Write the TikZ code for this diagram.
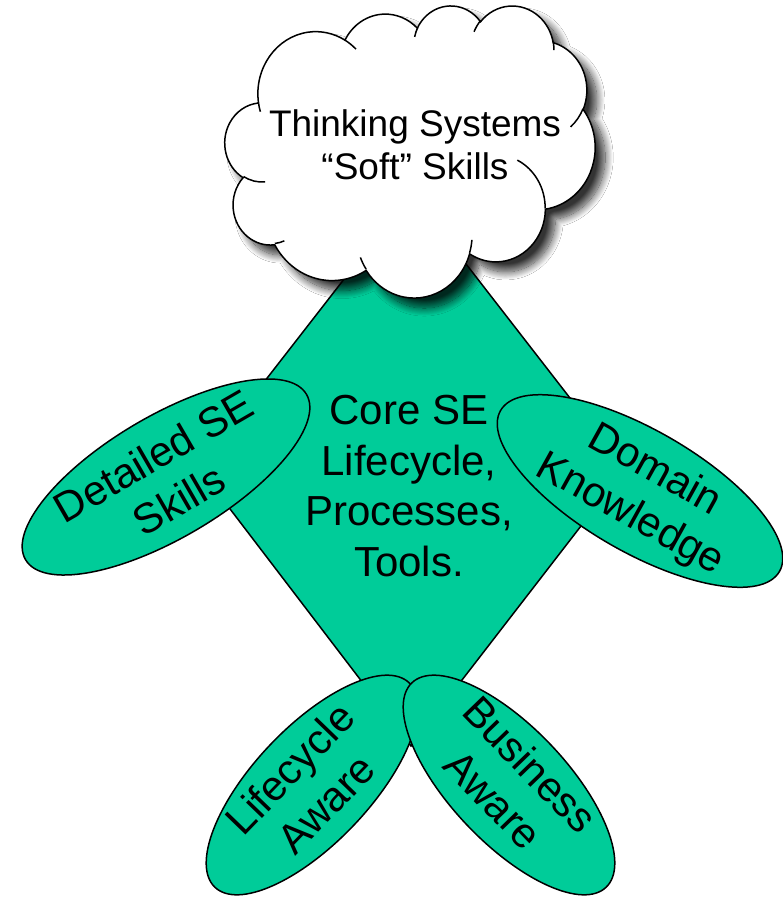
\documentclass[tikz,border=0pt]{standalone}
\usepackage{fontspec}
\setmainfont{Liberation Sans}
\usetikzlibrary{shapes.geometric,shadows.blur}
\definecolor{mint}{RGB}{0,204,153}
\begin{document}
\begin{tikzpicture}[x=1pt,y=-1pt,
  outline/.style={draw=black,line width=1.5pt},
  petal/.style={outline,fill=mint,shape=ellipse,inner sep=0pt},
  bigtext/.style={font=\fontsize{42}{50.7}\selectfont,align=center,inner sep=0pt},
  cloudtext/.style={font=\fontsize{37}{43}\selectfont,align=center,inner sep=0pt},
  puffline/.style={draw=black,line width=1.5pt}]
\useasboundingbox[fill=white] (0,0) rectangle (782,897);
% diamond
\coordinate (dt) at (411,193);
\coordinate (dr) at (625,469);
\coordinate (db) at (411,746);
\coordinate (dl) at (198,467);
\draw[outline,fill=mint] (dt) -- (dr) -- (db) -- (dl) -- cycle;
\node[bigtext] (tCore) at (409,486) {Core SE\\Lifecycle,\\Processes,\\Tools.};
% cloud
\begin{scope}[shift={(225,5)},x=0.8565pt,y=-0.6759pt]
\path[puffline,fill=white,blur shadow={shadow xshift=10pt,shadow yshift=-10pt,shadow blur radius=8pt,shadow blur steps=16,shadow opacity=80}]
 (39.00,143.70)
 arc[x radius=67.53,y radius=91.90,start angle=-187.75,end angle=-59.63]
 arc[x radius=53.33,y radius=72.67,start angle=-152.02,end angle=-45.44]
 arc[x radius=43.65,y radius=59.45,start angle=-153.49,end angle=-37.33]
 arc[x radius=48.57,y radius=65.95,start angle=-139.71,end angle=-10.22]
 arc[x radius=53.33,y radius=72.73,start angle=-74.77,end angle=23.21]
 arc[x radius=67.75,y radius=92.20,start angle=-37.54,end angle=81.86]
 arc[x radius=57.85,y radius=78.67,start angle=0.46,end angle=121.98]
 arc[x radius=67.52,y radius=92.15,start angle=16.84,end angle=146.23]
 arc[x radius=77.20,y radius=105.43,start angle=58.98,end angle=150.19]
 arc[x radius=43.60,y radius=59.18,start angle=83.31,end angle=223.12]
 arc[x radius=43.45,y radius=59.45,start angle=120.35,end angle=264.11]
 -- cycle;
\path[puffline]
 (46.93,261.77) arc[x radius=43.45,y radius=59.45,start angle=85.54,end angle=120.35]
 (69.28,348.99) arc[x radius=43.60,y radius=59.18,start angle=68.23,end angle=83.31]
 (164.78,390.90) arc[x radius=67.52,y radius=92.15,start angle=146.23,end angle=158.47]
 (288.27,347.51) arc[x radius=67.52,y radius=92.15,start angle=4.74,end angle=16.84]
 (341.29,229.54) arc[x radius=57.85,y radius=78.67,start angle=-64.03,end angle=0.46]
 (417.98,153.54) arc[x radius=53.33,y radius=72.73,start angle=23.21,end angle=49.64]
 (383.24,54.26) arc[x radius=48.57,y radius=65.95,start angle=-10.22,end angle=0.82]
 (290.78,39.52) arc[x radius=48.57,y radius=65.95,start angle=-156.3,end angle=-139.71]
 (221.41,47.20) arc[x radius=43.65,y radius=59.45,start angle=-167.72,end angle=-153.49]
 (140.00,51.92) arc[x radius=67.53,y radius=91.90,start angle=-59.63,end angle=-45.74]
 (41.27,157.89) arc[x radius=67.53,y radius=91.90,start angle=163.19,end angle=172.25];
\end{scope}
\node[cloudtext] (tCloud) at (415,145) {Thinking Systems\\“Soft” Skills};
% petals
\node[petal,rotate=30.5,minimum width=326pt,minimum height=122pt] (ellDet) at (166,477) {};
\node[bigtext,rotate=30] (tDet) at (166,478) {Detailed SE\\Skills};
\node[petal,rotate=-30,minimum width=322pt,minimum height=122pt] (ellDom) at (640,491) {};
\node[bigtext,rotate=-29] (tDom) at (642,493) {Domain\\Knowledge};
\node[petal,rotate=46.5,minimum width=282pt,minimum height=116pt] (ellLife) at (312,785) {};
\node[bigtext,rotate=46] (tLife) at (308,786) {Lifecycle\\Aware};
\node[petal,rotate=-46.5,minimum width=282pt,minimum height=116pt] (ellBus) at (509,785) {};
\node[bigtext,rotate=-46] (tBus) at (512,782) {Business\\Aware};
\end{tikzpicture}
\end{document}
